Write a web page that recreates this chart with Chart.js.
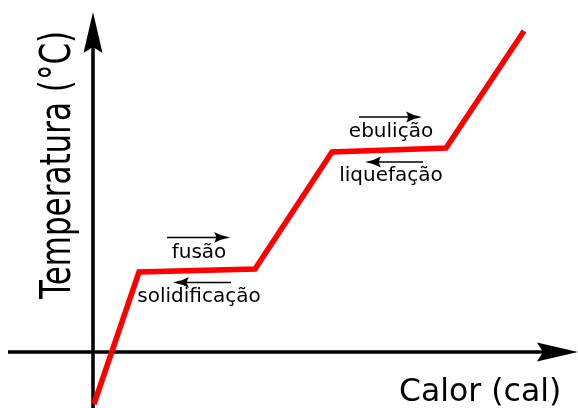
<!DOCTYPE html>
<html>
<head>
<meta charset="utf-8">
<script src="https://cdn.jsdelivr.net/npm/chart.js@4"></script>
<style>
  html, body { margin: 0; padding: 0; background: #fff; }
  #wrap { width: 578px; height: 408px; position: relative; }
</style>
</head>
<body>
<div id="wrap"><canvas id="curva"></canvas></div>
<script>
// curva de aquecimento (unidades arbitrárias)
const calor = [1, 46, 162, 239, 353, 431];
const temperatura = [-52, 80, 83, 200, 204, 321];

// rótulos das mudanças de estado, um por patamar (índice do primeiro ponto do patamar)
const patamarAcima = ['fusão', 'ebulição'];
const patamarAbaixo = ['solidificação', 'liquefação'];
const patamarIndice = [1, 3];

const tituloX = 'Calor (cal)';
const tituloY = 'Temperatura (°C)';

const FONTE = '"DejaVu Sans", Verdana, sans-serif';

function setaCheia(ctx, x, y, dir) {
  // ponta de seta dos eixos (dir: 'up' ou 'right')
  ctx.save();
  ctx.translate(x, y);
  if (dir === 'right') ctx.rotate(Math.PI / 2);
  ctx.beginPath();
  ctx.moveTo(0, 0);
  ctx.lineTo(9.5, 41);
  ctx.lineTo(0, 35);
  ctx.lineTo(-9.5, 41);
  ctx.closePath();
  ctx.fill();
  ctx.restore();
}

function setaFina(ctx, x1, x2, y) {
  // seta fina: de x1 até a ponta em x2
  const d = x2 > x1 ? 1 : -1;
  ctx.save();
  ctx.lineWidth = 1.6;
  ctx.beginPath();
  ctx.moveTo(x1, y);
  ctx.lineTo(x2 - d * 8, y);
  ctx.stroke();
  ctx.beginPath();
  ctx.moveTo(x2, y);
  ctx.quadraticCurveTo(x2 - d * 9, y - 1.5, x2 - d * 16, y - 5.5);
  ctx.quadraticCurveTo(x2 - d * 12, y, x2 - d * 16, y + 5.5);
  ctx.quadraticCurveTo(x2 - d * 9, y + 1.5, x2, y);
  ctx.fill();
  ctx.restore();
}

const eixos = {
  id: 'eixos',
  beforeDatasetsDraw(chart) {
    const ctx = chart.ctx;
    const sx = chart.scales.x, sy = chart.scales.y;
    const x0 = sx.getPixelForValue(0);
    const y0 = sy.getPixelForValue(0);
    ctx.save();
    ctx.strokeStyle = '#000';
    ctx.fillStyle = '#000';
    ctx.lineWidth = 3.5;
    ctx.beginPath();
    ctx.moveTo(8, y0);
    ctx.lineTo(550, y0);
    ctx.moveTo(x0, chart.height);
    ctx.lineTo(x0, 45);
    ctx.stroke();
    setaCheia(ctx, x0, 12, 'up');
    setaCheia(ctx, 578, y0, 'right');
    ctx.restore();
  },
  afterDraw(chart) {
    const ctx = chart.ctx;
    const sx = chart.scales.x, sy = chart.scales.y;
    ctx.save();
    ctx.fillStyle = '#000';
    ctx.strokeStyle = '#000';

    ctx.font = '31.5px ' + FONTE;
    ctx.textBaseline = 'alphabetic';
    ctx.fillText(tituloX, 399, 401);

    ctx.save();
    ctx.translate(70, 299);
    ctx.rotate(-Math.PI / 2);
    ctx.scale(1, 1.4);
    ctx.font = '31px ' + FONTE;
    ctx.fillText(tituloY, 0, 0);
    ctx.restore();

    ctx.font = '20px ' + FONTE;
    ctx.textAlign = 'center';
    patamarIndice.forEach((i, k) => {
      const xm = (sx.getPixelForValue(calor[i]) + sx.getPixelForValue(calor[i + 1])) / 2;
      const ym = (sy.getPixelForValue(temperatura[i]) + sy.getPixelForValue(temperatura[i + 1])) / 2;
      ctx.fillText(patamarAcima[k], xm + 2, ym - 13);
      setaFina(ctx, xm - 30, xm + 33, ym - 33);
      ctx.fillText(patamarAbaixo[k], xm + 2, ym + 31);
      setaFina(ctx, xm + 34, xm - 24, ym + 12);
    });
    ctx.restore();
  }
};

new Chart(document.getElementById('curva').getContext('2d'), {
  type: 'scatter',
  data: {
    datasets: [{
      data: calor.map((c, i) => ({ x: c, y: temperatura[i] })),
      showLine: true,
      borderColor: '#ff0000',
      borderWidth: 5.5,
      borderCapStyle: 'butt',
      borderJoinStyle: 'miter',
      pointRadius: 0,
      tension: 0
    }]
  },
  options: {
    responsive: true,
    maintainAspectRatio: false,
    animation: false,
    layout: { padding: 0 },
    plugins: { legend: { display: false }, tooltip: { enabled: false } },
    scales: {
      x: { type: 'linear', min: -93, max: 485, display: false },
      y: { type: 'linear', min: -56, max: 352, display: false }
    }
  },
  plugins: [eixos]
});
</script>
</body>
</html>
